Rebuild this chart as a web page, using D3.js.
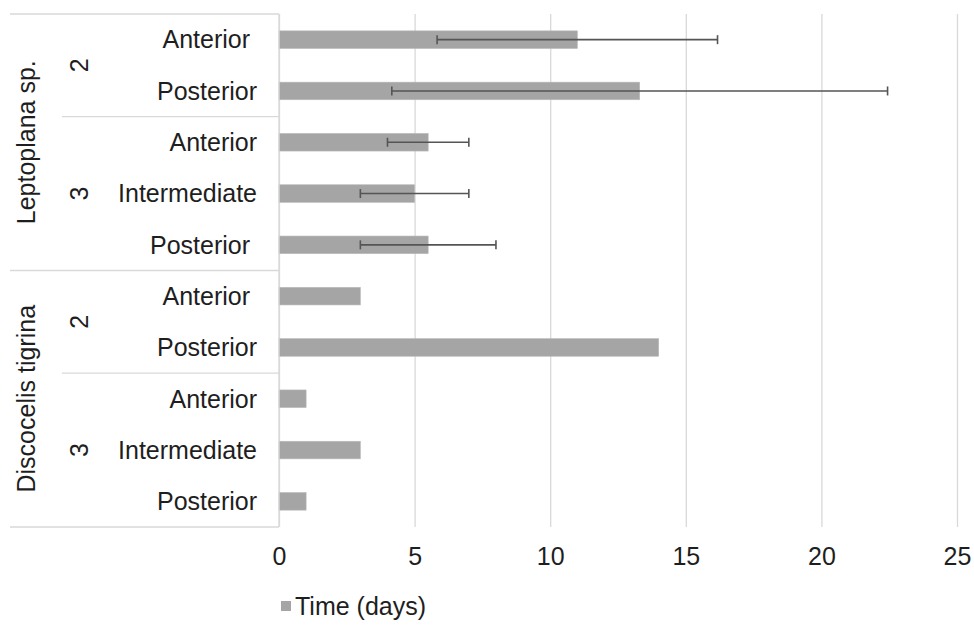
<!DOCTYPE html>
<html lang="en">
<head>
<meta charset="UTF-8">
<title>Time (days)</title>
<script src="https://cdn.jsdelivr.net/npm/d3@7/dist/d3.min.js"></script>
<style>
  body { margin: 0; background: #fff; }
  svg text { font-family: "Liberation Sans", Arial, sans-serif; fill: #1e1e1e; white-space: pre; }
</style>
</head>
<body>
<div id="chart"></div>
<script>
// data, top row first
var species = ["Leptoplana sp.", "Discocelis tigrina"];
var rowSpecies = [0, 0, 0, 0, 0, 1, 1, 1, 1, 1];
var rowGroup = ["2", "2", "3", "3", "3", "2", "2", "3", "3", "3"];
var rowLabels = ["Anterior ", "Posterior", "Anterior", "Intermediate", "Posterior ",
                 "Anterior ", "Posterior", "Anterior", "Intermediate", "Posterior"];
var timeDays = [11, 13.3, 5.5, 5, 5.5, 3, 14, 1, 3, 1];
var errDays = [5.17, 9.14, 1.5, 2, 2.5, null, null, null, null, null];
var xTicks = [0, 5, 10, 15, 20, 25];
var seriesName = "Time (days)";

var width = 974, height = 626;
var plotLeft = 279, plotRight = 957, plotTop = 14, plotBottom = 527;
var fontSize = "25px";

var svg = d3.select("#chart").append("svg")
    .attr("width", width).attr("height", height);

var rows = rowLabels.map(function(d, i) { return i; });

var x = d3.scaleLinear().domain([0, 25]).range([plotLeft, plotRight]);
var y = d3.scaleBand().domain(rows).range([plotTop, plotBottom])
    .paddingInner(0.657).paddingOuter(0.3285);
var step = y.step();

// gridlines
svg.append("g")
    .attr("transform", "translate(0," + plotBottom + ")")
    .call(d3.axisBottom(x).tickValues(xTicks).tickSize(-(plotBottom - plotTop)).tickFormat(""))
    .call(function(g) { g.select(".domain").remove(); })
    .selectAll("line").attr("stroke", "#d9d9d9").attr("stroke-width", 1.3);

// x tick labels
svg.append("g")
    .attr("transform", "translate(0," + plotBottom + ")")
    .call(d3.axisBottom(x).tickValues(xTicks).tickSize(0).tickPadding(20))
    .call(function(g) { g.select(".domain").remove(); })
    .selectAll("text").style("font-size", fontSize).attr("font-family", null);

// bars
svg.append("g").selectAll("rect")
    .data(rows)
    .enter().append("rect")
    .attr("x", x(0))
    .attr("y", function(i) { return y(i); })
    .attr("width", function(i) { return x(timeDays[i]) - x(0); })
    .attr("height", y.bandwidth())
    .attr("fill", "#a5a5a5")
    .attr("stroke", "#b8b8b8").attr("stroke-width", 0.6);

// error bars
var eb = svg.append("g").attr("stroke", "#555").attr("stroke-width", 1.6)
    .selectAll("g")
    .data(rows.filter(function(i) { return errDays[i] != null; }))
    .enter().append("g");
eb.append("line")
    .attr("x1", function(i) { return x(timeDays[i] - errDays[i]); })
    .attr("x2", function(i) { return x(timeDays[i] + errDays[i]); })
    .attr("y1", function(i) { return y(i) + y.bandwidth() / 2; })
    .attr("y2", function(i) { return y(i) + y.bandwidth() / 2; });
[-1, 1].forEach(function(s) {
    eb.append("line")
        .attr("x1", function(i) { return x(timeDays[i] + s * errDays[i]); })
        .attr("x2", function(i) { return x(timeDays[i] + s * errDays[i]); })
        .attr("y1", function(i) { return y(i) + y.bandwidth() / 2 - 4.5; })
        .attr("y2", function(i) { return y(i) + y.bandwidth() / 2 + 4.5; });
});

// category axis
svg.append("g")
    .attr("transform", "translate(" + plotLeft + ",0)")
    .call(d3.axisLeft(y).tickSize(0).tickPadding(22).tickFormat(function(i) { return rowLabels[i]; }))
    .call(function(g) { g.select(".domain").remove(); })
    .selectAll("text").style("font-size", fontSize).attr("font-family", null).attr("dy", "0.35em");

svg.append("line")
    .attr("x1", plotLeft).attr("x2", plotLeft).attr("y1", plotTop).attr("y2", plotBottom)
    .attr("stroke", "#d9d9d9").attr("stroke-width", 1.3);

// group rows into blocks
function blocks(keyFn) {
    var out = [];
    rows.forEach(function(i) {
        var k = keyFn(i);
        var last = out[out.length - 1];
        if (last && last.key === k) last.end = i;
        else out.push({ key: k, start: i, end: i });
    });
    return out;
}
var spBlocks = blocks(function(i) { return rowSpecies[i]; });
var grBlocks = blocks(function(i) { return rowSpecies[i] + "-" + rowGroup[i]; });

function blockTop(b) { return plotTop + b.start * step; }
function blockBottom(b) { return plotTop + (b.end + 1) * step; }

var sep = svg.append("g").attr("stroke", "#d9d9d9").attr("stroke-width", 1.3);
sep.selectAll("line.sp").data(spBlocks).enter().append("line")
    .attr("x1", 10).attr("x2", plotLeft)
    .attr("y1", blockTop).attr("y2", blockTop);
sep.append("line").attr("x1", 10).attr("x2", plotLeft).attr("y1", plotBottom).attr("y2", plotBottom);
sep.selectAll("line.gr").data(grBlocks.filter(function(b) {
        return !spBlocks.some(function(s) { return s.start === b.start; });
    })).enter().append("line")
    .attr("x1", 62).attr("x2", plotLeft)
    .attr("y1", blockTop).attr("y2", blockTop);

svg.append("g").selectAll("text").data(spBlocks).enter().append("text")
    .attr("transform", function(b) {
        return "translate(26," + (blockTop(b) + blockBottom(b)) / 2 + ") rotate(-90)";
    })
    .attr("text-anchor", "middle").attr("dy", "0.35em")
    .style("font-size", fontSize)
    .text(function(b) { return species[b.key]; });

svg.append("g").selectAll("text").data(grBlocks).enter().append("text")
    .attr("transform", function(b) {
        return "translate(79," + (blockTop(b) + blockBottom(b)) / 2 + ") rotate(-90)";
    })
    .attr("text-anchor", "middle").attr("dy", "0.35em")
    .style("font-size", fontSize)
    .text(function(b) { return rowGroup[b.start]; });

// legend
var lg = svg.append("g").attr("transform", "translate(281,601)");
lg.append("rect").attr("width", 10).attr("height", 10).attr("fill", "#a5a5a5");
lg.append("text").attr("x", 14).attr("y", 5).attr("dy", "0.35em")
    .style("font-size", fontSize).text(seriesName);
</script>
</body>
</html>
